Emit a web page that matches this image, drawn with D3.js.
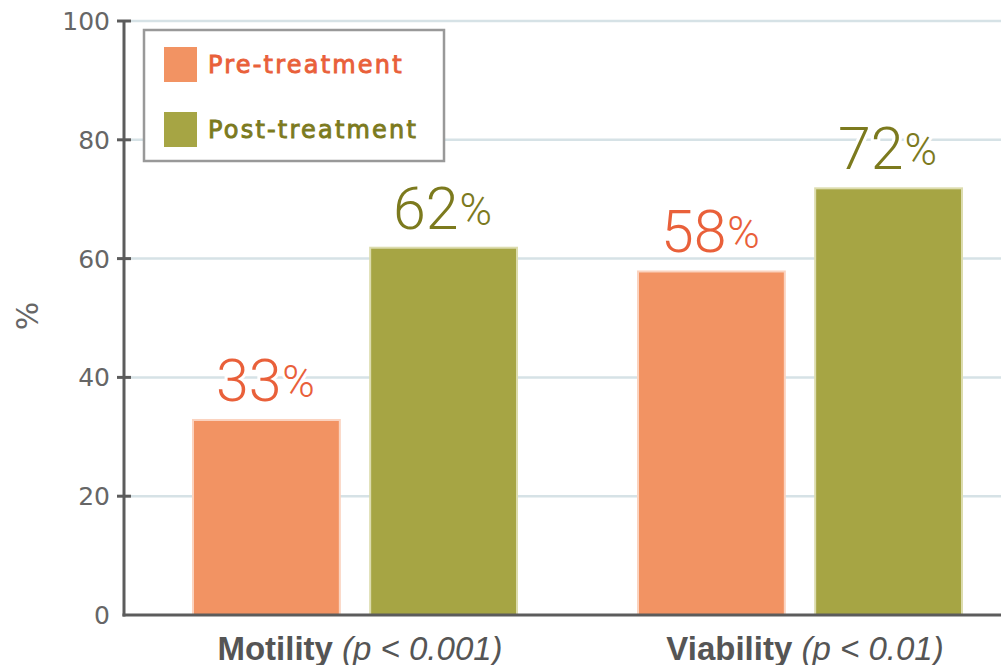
<!DOCTYPE html>
<html>
<head>
<meta charset="utf-8">
<script src="https://cdn.jsdelivr.net/npm/d3@7"></script>
<style>
  body { margin: 0; background: #fff; }
  svg { display: block; }
</style>
</head>
<body>
<div id="chart"></div>
<script>
// data
var categories = ["Motility", "Viability"];
var pValues = ["(p < 0.001)", "(p < 0.01)"];
var series = ["Pre-treatment", "Post-treatment"];
var preValues = [33, 58];
var postValues = [62, 72];
var yTicks = [0, 20, 40, 60, 80, 100];

var width = 1001, height = 665;
var fills = ["#f29363", "#a6a544"];
var strokes = ["#fbd3bf", "#dcdcae"];
var textCols = ["#e9603a", "#7c7a1e"];

var svg = d3.select("#chart").append("svg")
    .attr("width", width)
    .attr("height", height);

var y = d3.scaleLinear().domain([0, 100]).range([615, 21]);
var x0 = d3.scaleBand().domain(categories).range([132.5, 1022.5]);
var x1 = d3.scaleBand().domain(series).range([59.5, 385.5]).paddingInner(0.16);

// gridlines
svg.append("g").selectAll("line")
    .data(yTicks.filter(function (d) { return d > 0; }))
    .enter().append("line")
    .attr("x1", 131).attr("x2", width)
    .attr("y1", function (d) { return y(d); })
    .attr("y2", function (d) { return y(d); })
    .attr("stroke", "#d6e2e6")
    .attr("stroke-width", 2.5);

// bars
var rows = categories.map(function (c, i) {
    return { cat: c, p: pValues[i], vals: [preValues[i], postValues[i]] };
});

var groups = svg.selectAll(".grp")
    .data(rows)
    .enter().append("g")
    .attr("class", "grp")
    .attr("transform", function (d) { return "translate(" + x0(d.cat) + ",0)"; });

var bars = groups.selectAll(".bar")
    .data(function (d) {
        return d.vals.map(function (v, j) { return { s: series[j], v: v, j: j }; });
    })
    .enter();

bars.append("rect")
    .attr("x", function (d) { return x1(d.s) + 1; })
    .attr("width", x1.bandwidth() - 2)
    .attr("y", function (d) { return y(d.v) + 1; })
    .attr("height", function (d) { return y(0) - y(d.v) - 1; })
    .attr("fill", function (d) { return fills[d.j]; })
    .attr("stroke", function (d) { return strokes[d.j]; })
    .attr("stroke-width", 2);

var lbl = bars.append("text")
    .attr("x", function (d) { return x1(d.s) + x1.bandwidth() / 2 - 1; })
    .attr("y", function (d) { return y(d.v) - 18; })
    .attr("text-anchor", "middle")
    .attr("font-family", "Roboto, 'Liberation Sans', sans-serif")
    .attr("font-weight", 300)
    .attr("fill", function (d) { return textCols[d.j]; })
    .attr("stroke", "#fff")
    .attr("stroke-width", 6)
    .attr("paint-order", "stroke");
lbl.append("tspan").attr("font-size", 59).text(function (d) { return d.v; });
lbl.append("tspan").attr("font-size", 44).attr("dx", 1).attr("dy", -4).text("%");

// category labels
var cl = groups.append("text")
    .attr("x", x0.bandwidth() / 2 + 5)
    .attr("y", 660)
    .attr("text-anchor", "middle")
    .attr("font-family", "'Liberation Sans', Arial, sans-serif")
    .attr("font-size", 33)
    .attr("fill", "#555");
cl.append("tspan").attr("font-weight", "bold").text(function (d) { return d.cat + " "; });
cl.append("tspan").attr("font-style", "italic").text(function (d) { return d.p; });

// axes
svg.append("line")
    .attr("x1", 124).attr("x2", 124).attr("y1", y(100)).attr("y2", y(0) + 1.5)
    .attr("stroke", "#5c5c5c").attr("stroke-width", 3);
svg.append("line")
    .attr("x1", 122.5).attr("x2", width).attr("y1", y(0)).attr("y2", y(0))
    .attr("stroke", "#5c5c5c").attr("stroke-width", 3);

var ticks = svg.append("g").selectAll("g")
    .data(yTicks)
    .enter().append("g")
    .attr("transform", function (d) { return "translate(0," + y(d) + ")"; });
ticks.filter(function (d) { return d > 0; }).append("line")
    .attr("x1", 117).attr("x2", 131)
    .attr("stroke", "#5c5c5c").attr("stroke-width", 3);
ticks.append("text")
    .attr("x", 110)
    .attr("dy", "0.36em")
    .attr("text-anchor", "end")
    .attr("font-family", "'DejaVu Sans', sans-serif")
    .attr("font-size", 25)
    .attr("fill", "#666")
    .text(function (d) { return d; });

svg.append("text")
    .attr("transform", "translate(38,316) rotate(-90)")
    .attr("text-anchor", "middle")
    .attr("font-family", "'DejaVu Sans', sans-serif")
    .attr("font-size", 30)
    .attr("fill", "#666")
    .text("%");

// legend
var legend = svg.append("g");
legend.append("rect")
    .attr("x", 144).attr("y", 30).attr("width", 300).attr("height", 131)
    .attr("fill", "#fff").attr("stroke", "#999").attr("stroke-width", 2.5);
var li = legend.selectAll(".li")
    .data(series)
    .enter().append("g")
    .attr("transform", function (d, i) { return "translate(164," + (47 + i * 65) + ")"; });
li.append("rect")
    .attr("width", 33).attr("height", 35)
    .attr("fill", function (d, i) { return fills[i]; });
li.append("text")
    .attr("x", 44).attr("y", 26)
    .attr("font-family", "'DejaVu Sans', sans-serif")
    .attr("font-size", 24)
    .attr("letter-spacing", 2.2)
    .attr("fill", function (d, i) { return textCols[i]; })
    .attr("stroke", function (d, i) { return textCols[i]; })
    .attr("stroke-width", 0.9)
    .text(function (d) { return d; });
</script>
</body>
</html>
